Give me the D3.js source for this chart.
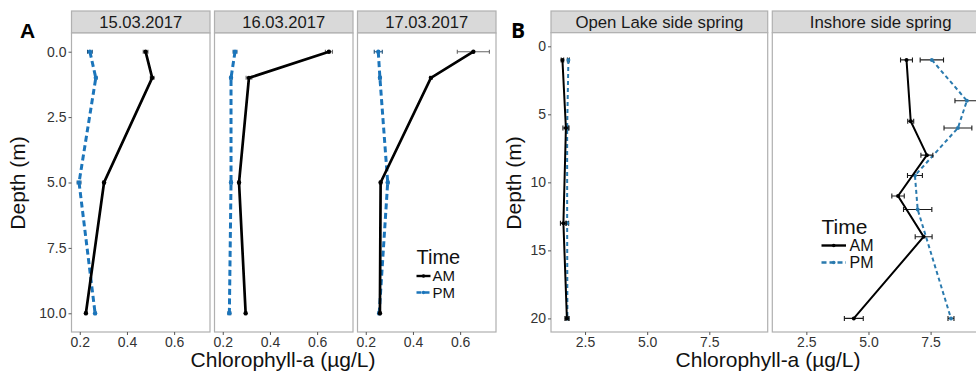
<!DOCTYPE html>
<html><head><meta charset="utf-8">
<script src="https://cdn.jsdelivr.net/npm/d3@7"></script>
<style>
body{margin:0;background:#fff;}
svg{display:block;font-family:"Liberation Sans",Arial,sans-serif;}
</style></head>
<body><svg id="chart" width="976" height="376"></svg>
<script>
// ---------- Data: panel A ----------
const depthsA = [0, 1, 5, 10];
const datesA = ["15.03.2017", "16.03.2017", "17.03.2017"];
const amA = [[0.479, 0.507, 0.303, 0.226], [0.650, 0.311, 0.269, 0.297], [0.656, 0.476, 0.263, 0.260]];
const pmA = [[0.243, 0.268, 0.197, 0.265], [0.252, 0.235, 0.235, 0.228], [0.253, 0.260, 0.293, 0.257]];
const amAerr = [[0.010, 0.008, 0.005, 0.004], [0.015, 0.012, 0.005, 0.004], [0.068, 0.005, 0.005, 0.004]];
const pmAerr = [[0.010, 0.005, 0.008, 0.004], [0.008, 0.005, 0.005, 0.006], [0.017, 0.005, 0.005, 0.005]];
const xTicksA = [0.2, 0.4, 0.6];
const yTicksA = [0, 2.5, 5, 7.5, 10];

// ---------- Data: panel B ----------
const sitesB = ["Open Lake side spring", "Inshore side spring"];
const amDepthsB = [[1, 6, 13, 20], [1, 5.5, 8, 11, 14, 20]];
const amB = [[1.59, 1.73, 1.63, 1.77], [6.53, 6.70, 7.35, 6.19, 7.22, 4.41]];
const amBerr = [[0.05, 0.12, 0.12, 0.08], [0.24, 0.12, 0.24, 0.25, 0.34, 0.38]];
const pmDepthsB = [[1, 6, 13, 20], [1, 4, 6, 9.5, 12, 20]];
const pmB = [[1.83, 1.78, 1.78, 1.79], [7.55, 8.96, 8.60, 6.87, 6.98, 8.32]];
const pmBerr = [[0.04, 0.06, 0.06, 0.06], [0.47, 0.48, 0.56, 0.30, 0.57, 0.12]];
const xTicksB = [2.5, 5.0, 7.5];
const yTicksB = [0, 5, 10, 15, 20];

const svg = d3.select("#chart");
const BORDER = "#b0b0b0", STRIP = "#d9d9d9", TXT = "#333";

function facet(cfg) {
  const g = svg.append("g");
  const x = d3.scaleLinear().domain(cfg.xDomain).range([cfg.left, cfg.left + cfg.width]);
  const y = d3.scaleLinear().domain(cfg.yDomain).range([cfg.top, cfg.bottom]);
  const clipId = "clip" + Math.round(cfg.left);
  svg.append("clipPath").attr("id", clipId).append("rect")
    .attr("x", cfg.left).attr("y", cfg.top).attr("width", cfg.width).attr("height", cfg.bottom - cfg.top);
  // strip
  g.append("rect").attr("x", cfg.left).attr("y", cfg.stripTop).attr("width", cfg.width)
    .attr("height", cfg.top - cfg.stripTop).attr("fill", STRIP).attr("stroke", BORDER).attr("stroke-width", 1.2);
  g.append("text").attr("x", cfg.left + cfg.width / 2).attr("y", (cfg.stripTop + cfg.top) / 2 + 6)
    .attr("text-anchor", "middle").attr("font-size", cfg.stripFont).attr("fill", "#1a1a1a").text(cfg.label);
  // panel
  g.append("rect").attr("x", cfg.left).attr("y", cfg.top).attr("width", cfg.width)
    .attr("height", cfg.bottom - cfg.top).attr("fill", "#fff").attr("stroke", BORDER).attr("stroke-width", 1.2);
  // x axis
  const xa = g.append("g").attr("transform", `translate(0,${cfg.bottom})`)
    .call(d3.axisBottom(x).tickValues(cfg.xTicks).tickFormat(d3.format(".1f")).tickSize(3).tickPadding(2));
  xa.select(".domain").remove();
  xa.selectAll("line").attr("stroke", "#555");
  xa.selectAll("text").attr("font-size", cfg.tickFont).attr("fill", TXT).attr("font-family", "Liberation Sans, Arial");
  if (cfg.yAxis) {
    const ya = g.append("g").attr("transform", `translate(${cfg.left},0)`)
      .call(d3.axisLeft(y).tickValues(cfg.yTicks).tickFormat(cfg.yFmt).tickSize(3).tickPadding(2));
    ya.select(".domain").remove();
    ya.selectAll("line").attr("stroke", "#555");
    ya.selectAll("text").attr("font-size", cfg.tickFont).attr("fill", TXT).attr("font-family", "Liberation Sans, Arial");
  }
  const d = g.append("g").attr("clip-path", `url(#${clipId})`);
  const line = d3.line().x(p => x(p[0])).y(p => y(p[1]));
  cfg.series.forEach(s => {
    const pts = s.vals.map((v, i) => [v, s.depths[i], s.err[i]]);
    // error bars
    pts.forEach(p => {
      d.append("line").attr("x1", x(p[0] - p[2])).attr("x2", x(p[0] + p[2]))
        .attr("y1", y(p[1])).attr("y2", y(p[1])).attr("stroke", s.errColor).attr("stroke-width", 1.1);
      [p[0] - p[2], p[0] + p[2]].forEach(e => d.append("line").attr("x1", x(e)).attr("x2", x(e))
        .attr("y1", y(p[1]) - cfg.cap).attr("y2", y(p[1]) + cfg.cap).attr("stroke", s.errColor).attr("stroke-width", 1.1));
    });
    d.append("path").attr("d", line(pts)).attr("fill", "none").attr("stroke", s.color)
      .attr("stroke-width", s.width).attr("stroke-dasharray", s.dash || null);
    pts.forEach(p => d.append("circle").attr("cx", x(p[0])).attr("cy", y(p[1])).attr("r", cfg.r).attr("fill", s.color));
  });
  return { x, y };
}

// ---------- Panel A ----------
const PM_A = "#1b75bb";
const facetW_A = 138.5, lefts_A = [71.5, 214.5, 357.5];
datesA.forEach((lab, k) => {
  facet({
    left: lefts_A[k], width: facetW_A, stripTop: 11, top: 33, bottom: 332,
    xDomain: [0.165, 0.752], yDomain: [-0.715, 10.715], xTicks: xTicksA, yTicks: yTicksA,
    yFmt: d3.format(".1f"), yAxis: k === 0, label: lab, stripFont: 16.6, tickFont: 14, cap: 2, r: 2.2,
    series: [
      { depths: depthsA, vals: pmA[k], err: pmAerr[k], color: PM_A, errColor: "#1d4f78", width: 3, dash: "6,3.5" },
      { depths: depthsA, vals: amA[k], err: amAerr[k], color: "#000", errColor: "#666", width: 2.7 }
    ]
  });
});

// ---------- Panel B ----------
const PM_B = "#2a7aae";
const facetW_B = 216.7, lefts_B = [551, 772.3];
sitesB.forEach((lab, k) => {
  facet({
    left: lefts_B[k], width: facetW_B, stripTop: 11, top: 32.7, bottom: 332,
    xDomain: [1.13, 9.85], yDomain: [-1, 21], xTicks: xTicksB, yTicks: yTicksB,
    yFmt: d3.format("d"), yAxis: k === 0, label: lab, stripFont: 16.8, tickFont: 14, cap: 2.5, r: 2,
    series: [
      { depths: pmDepthsB[k], vals: pmB[k], err: pmBerr[k], color: PM_B, errColor: "#1a1a1a", width: 2, dash: "4,3" },
      { depths: amDepthsB[k], vals: amB[k], err: amBerr[k], color: "#000", errColor: "#1a1a1a", width: 2 }
    ]
  });
});

// ---------- Titles and labels ----------
function txt(x, y, s, size, opts = {}) {
  const t = svg.append("text").attr("x", x).attr("y", y).attr("font-size", size)
    .attr("fill", opts.fill || "#111").attr("text-anchor", opts.anchor || "start").text(s);
  if (opts.weight) t.attr("font-weight", opts.weight);
  if (opts.rotate) t.attr("transform", `rotate(-90,${x},${y})`);
  if (opts.family) t.attr("font-family", opts.family);
  return t;
}
txt(20, 38, "A", 21, { weight: "bold", fill: "#000" });
txt(511, 38, "B", 21, { weight: "bold", fill: "#000", family: "Open Sans, Liberation Sans" });
txt(25, 183, "Depth (m)", 21, { anchor: "middle", rotate: true });
txt(521, 183, "Depth (m)", 21, { anchor: "middle", rotate: true });
txt(283, 367, "Chlorophyll-a (µg/L)", 21, { anchor: "middle" });
txt(768, 367, "Chlorophyll-a (µg/L)", 21, { anchor: "middle" });

// ---------- Legends ----------
function legend(x0, yTitle, rows, titleSize, labSize, keyW, textX, colors) {
  txt(x0, yTitle, "Time", titleSize);
  ["AM", "PM"].forEach((lab, i) => {
    const yy = rows[i];
    svg.append("line").attr("x1", x0).attr("x2", x0 + keyW).attr("y1", yy).attr("y2", yy)
      .attr("stroke", colors[i]).attr("stroke-width", 2.4).attr("stroke-dasharray", i ? "5,3" : null);
    svg.append("circle").attr("cx", x0 + keyW / 2).attr("cy", yy).attr("r", 1.8).attr("fill", colors[i]);
    txt(textX, yy + labSize * 0.36, lab, labSize);
  });
}
legend(416.5, 263.5, [276, 292.5], 20, 15, 14, 432.5, ["#000", PM_A]);
legend(821.5, 233.5, [245.5, 262.5], 21, 16, 24.5, 849.5, ["#000", PM_B]);
</script></body></html>
